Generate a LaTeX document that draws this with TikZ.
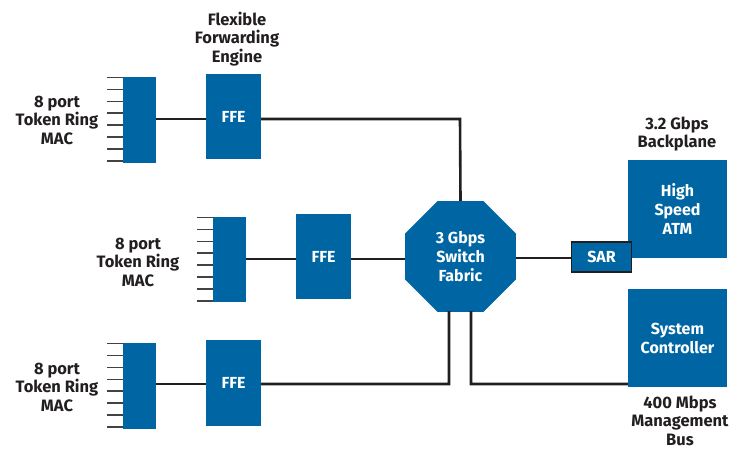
\documentclass[tikz,border=0pt]{standalone}
\usepackage{fontspec}
\setmainfont{Fira Sans}
\usetikzlibrary{shapes.geometric,calc}
\definecolor{ibmblue}{RGB}{0,102,163}
\definecolor{ink}{RGB}{35,31,32}
\begin{document}
\begin{tikzpicture}[x=1pt,y=-1pt,
  blk/.style={fill=ibmblue,draw=none,inner sep=0pt,text=white,font=\bfseries\fontsize{16}{19}\selectfont,align=center},
  lbl/.style={text=ink,font=\bfseries\fontsize{16.5}{18.5}\selectfont,align=center,inner sep=0pt},
  wire/.style={draw=ink,line width=2.6pt},
  port/.style={draw=ink!85,line width=1.6pt}]
\useasboundingbox (0,0) rectangle (734,449);
% MAC blocks
\node[blk,minimum width=33pt,minimum height=86pt] (mac1) at (139.5,120) {};
\node[blk,minimum width=33pt,minimum height=85pt] (mac2) at (229.5,259.5) {};
\node[blk,minimum width=33pt,minimum height=86pt] (mac3) at (139.5,386) {};
\foreach \m in {mac1,mac2,mac3}{
  \foreach \i in {0,...,7}{
    \draw[port] ($(\m.north west)+(-16,\i*11.9+0.8)$) -- ($(\m.north west)+(0,\i*11.9+0.8)$);
  }
}
% FFE blocks
\node[blk,minimum width=55pt,minimum height=85pt] (ffe1) at (233.5,116.5) {FFE};
\node[blk,minimum width=55pt,minimum height=85pt] (ffe2) at (323.5,256.5) {FFE};
\node[blk,minimum width=55pt,minimum height=86pt] (ffe3) at (233.5,383) {FFE};
% switch fabric
\node[blk,regular polygon,regular polygon sides=8,minimum size=120pt] (fab) at (460.5,256.5) {3 Gbps\\Switch\\Fabric};
% right side blocks
\node[blk,minimum width=99pt,minimum height=98pt] (atm) at (677.5,209) {High\\Speed\\ATM};
\node[blk,minimum width=99pt,minimum height=98pt] (sys) at (677.5,338) {System\\Controller};
\node[blk,draw=ink,line width=1.3pt,minimum width=60pt,minimum height=30pt] (sar) at (601.5,257) {SAR};
% labels
\node[lbl] (lf) at (237,39) {Flexible\\Forwarding\\Engine};
\node[lbl] (l1) at (57,120) {8 port\\Token Ring\\MAC};
\node[lbl] (l2) at (138,262) {8 port\\Token Ring\\MAC};
\node[lbl] (l3) at (57,387) {8 port\\Token Ring\\MAC};
\node[lbl] (lb) at (677,134) {3.2 Gbps\\Backplane};
\node[lbl] (lm) at (680,420.5) {400 Mbps\\Management\\Bus};
% wires
\draw[wire] (mac1.east |- 0,119) -- (ffe1.west |- 0,119);
\draw[wire] (mac2.east |- 0,259) -- (ffe2.west |- 0,259);
\draw[wire] (mac3.east |- 0,384) -- (ffe3.west |- 0,384);
\draw[wire] (ffe1.east |- 0,119) -- (460,119) -- (fab.north);
\draw[wire] (ffe2.east |- 0,259) -- (fab.west |- 0,259);
\draw[wire] (fab.east |- 0,258) -- (sar.west |- 0,258);
\draw[wire] (ffe3.east |- 0,384) -- (449,384) -- ($(fab.south)+(-11.5,-1)$);
\draw[wire] ($(fab.south)+(10.5,-1)$) -- (471,384) -- (sys.west |- 0,384);
\end{tikzpicture}
\end{document}
